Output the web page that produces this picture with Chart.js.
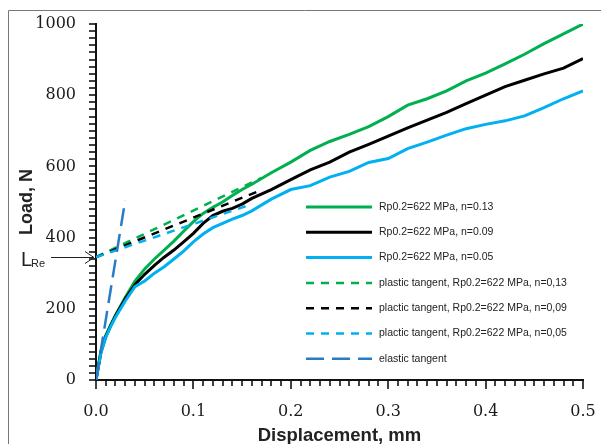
<!DOCTYPE html>
<html lang="en">
<head>
    <meta charset="UTF-8">
    <title>Load vs Displacement</title>
    <script src="https://cdn.jsdelivr.net/npm/chart.js"></script>
    <style>
        html, body { margin: 0; padding: 0; background: #fff; }
        #wrap { position: relative; width: 601px; height: 444px; }
    </style>
</head>
<body>
    <div id="wrap">
        <canvas id="loadChart" width="601" height="444"></canvas>
    </div>

    <script>
        // Displacement grid (mm) shared by the three measured curves
        const displacement = [0, 0.005, 0.01, 0.015, 0.02, 0.03, 0.04, 0.05, 0.06, 0.07, 0.08, 0.09,
            0.1, 0.11, 0.12, 0.13, 0.14, 0.15, 0.16, 0.18, 0.2, 0.22, 0.24, 0.26, 0.28, 0.3,
            0.32, 0.34, 0.36, 0.38, 0.4, 0.42, 0.44, 0.46, 0.48, 0.5];

        // Load (N) for each hardening exponent
        const loadN013 = [0, 80, 125, 155, 182, 232, 278, 312, 340, 365, 390, 418,
            445, 468, 485, 500, 518, 535, 550, 582, 612, 645, 670, 690, 712, 740,
            772, 790, 812, 840, 862, 888, 915, 945, 972, 1000];
        const loadN009 = [0, 78, 122, 152, 180, 228, 268, 297, 322, 345, 365, 388,
            412, 440, 462, 474, 482, 494, 510, 535, 563, 590, 612, 640, 662, 685,
            708, 730, 752, 776, 800, 824, 842, 860, 876, 903];
        const loadN005 = [0, 75, 120, 150, 176, 222, 262, 278, 300, 318, 340, 362,
            388, 410, 428, 440, 452, 462, 475, 508, 535, 546, 570, 586, 611, 622,
            650, 668, 688, 706, 718, 728, 742, 765, 790, 812];

        // Straight tangent lines (start and end points)
        const lRe = 345;
        const tangentX013 = [0, 0.17];
        const tangentY013 = [lRe, 568];
        const tangentX009 = [0, 0.17];
        const tangentY009 = [lRe, 534];
        const tangentX005 = [0, 0.16];
        const tangentY005 = [lRe, 494];
        const elasticX = [0, 0.03];
        const elasticY = [0, 505];

        const seriesLabels = [
            'Rp0.2=622 MPa, n=0.13',
            'Rp0.2=622 MPa, n=0.09',
            'Rp0.2=622 MPa, n=0.05',
            'plastic tangent, Rp0.2=622 MPa, n=0,13',
            'plactic tangent, Rp0.2=622 MPa, n=0,09',
            'plactic tangent, Rp0.2=622 MPa, n=0,05',
            'elastic tangent'
        ];

        const GREEN = '#00b050';
        const BLACK = '#000000';
        const LIGHT_BLUE = '#00b0f0';
        const DARK_BLUE = '#2a7bc6';

        const toPoints = (xs, ys) => xs.map((x, i) => ({ x: x, y: ys[i] }));

        function line(label, xs, ys, color, dash, order) {
            return {
                label: label,
                data: toPoints(xs, ys),
                borderColor: color,
                backgroundColor: color,
                borderWidth: dash.length ? 2.5 : 3,
                borderDash: dash,
                pointRadius: 0,
                tension: 0,
                order: order
            };
        }

        // keep the plot box where the layout padding puts it
        function fixAxis(size) {
            return (scale) => {
                if (scale.isHorizontal()) scale.height = size;
                else scale.width = size;
                scale.paddingLeft = scale.paddingRight = 0;
                scale.paddingTop = scale.paddingBottom = 0;
            };
        }

        // Outer frame, axis tick marks, L_Re marker and the legend inside the plot
        const decorations = {
            id: 'decorations',
            beforeDraw(chart) {
                const ctx = chart.ctx;
                ctx.save();
                ctx.fillStyle = '#fff';
                ctx.fillRect(0, 0, chart.width, chart.height);
                ctx.strokeStyle = '#777';
                ctx.lineWidth = 1;
                ctx.beginPath();
                ctx.moveTo(8.5, chart.height);
                ctx.lineTo(8.5, 10.5);
                ctx.lineTo(chart.width, 10.5);
                ctx.stroke();
                ctx.restore();
            },
            afterDraw(chart) {
                const ctx = chart.ctx;
                const xScale = chart.scales.x;
                const yScale = chart.scales.y;
                const area = chart.chartArea;

                ctx.save();
                ctx.setLineDash([]);
                // tick marks: every tick of each scale, longer on labelled x ones
                ctx.strokeStyle = '#111';
                ctx.lineWidth = 1.6;
                yScale.getTicks().forEach((t) => {
                    const py = Math.round(yScale.getPixelForValue(t.value));
                    ctx.beginPath();
                    ctx.moveTo(area.left - 7, py);
                    ctx.lineTo(area.left, py);
                    ctx.stroke();
                });
                xScale.getTicks().forEach((t) => {
                    const px = Math.round(xScale.getPixelForValue(t.value));
                    const major = Math.round(t.value * 100) % 10 === 0;
                    ctx.beginPath();
                    ctx.moveTo(px, area.bottom);
                    ctx.lineTo(px, area.bottom + (major ? 9 : 6));
                    ctx.stroke();
                });

                // arrow pointing at L_Re on the load axis
                ctx.strokeStyle = '#222';
                ctx.lineWidth = 1;
                const yRe = Math.round(yScale.getPixelForValue(lRe)) + 0.5;
                ctx.beginPath();
                ctx.moveTo(51, yRe);
                ctx.lineTo(area.left - 2, yRe);
                ctx.moveTo(area.left - 11, yRe - 6);
                ctx.lineTo(area.left - 2, yRe);
                ctx.lineTo(area.left - 11, yRe + 6);
                ctx.stroke();

                ctx.fillStyle = '#222';
                ctx.textBaseline = 'alphabetic';
                ctx.font = '20px "Liberation Sans"';
                ctx.fillText('L', 21, yRe + 8);
                ctx.font = '11px "Liberation Sans"';
                ctx.fillText('Re', 31, yRe + 9);

                // legend
                const lx = 306, tx = 379;
                const ly0 = 207, step = 25.3;
                ctx.font = '10.5px "Liberation Sans"';
                ctx.textBaseline = 'middle';
                chart.data.datasets.forEach((ds, i) => {
                    const y = ly0 + i * step;
                    ctx.strokeStyle = ds.borderColor;
                    ctx.lineWidth = ds.borderWidth;
                    ctx.setLineDash(ds.borderDash);
                    ctx.beginPath();
                    ctx.moveTo(lx, y);
                    ctx.lineTo(lx + 66, y);
                    ctx.stroke();
                    ctx.setLineDash([]);
                    ctx.fillStyle = '#222';
                    ctx.fillText(ds.label, tx, y);
                });
                ctx.restore();
            }
        };

        new Chart(document.getElementById('loadChart'), {
            type: 'line',
            data: {
                datasets: [
                    line(seriesLabels[0], displacement, loadN013, GREEN, [], 7),
                    line(seriesLabels[1], displacement, loadN009, BLACK, [], 6),
                    line(seriesLabels[2], displacement, loadN005, LIGHT_BLUE, [], 5),
                    line(seriesLabels[3], tangentX013, tangentY013, GREEN, [8, 7], 4),
                    line(seriesLabels[4], tangentX009, tangentY009, BLACK, [8, 7], 3),
                    line(seriesLabels[5], tangentX005, tangentY005, LIGHT_BLUE, [8, 7], 2),
                    line(seriesLabels[6], elasticX, elasticY, DARK_BLUE, [18, 8], 1)
                ]
            },
            options: {
                responsive: false,
                animation: false,
                layout: { padding: { left: 0, right: 18, top: 24, bottom: 0 } },
                plugins: {
                    legend: { display: false },
                    tooltip: { enabled: false }
                },
                scales: {
                    x: {
                        type: 'linear',
                        min: 0,
                        max: 0.5,
                        border: { display: true, color: '#111', width: 2 },
                        grid: { display: false, drawTicks: false },
                        ticks: {
                            stepSize: 0.01,
                            autoSkip: false,
                            maxRotation: 0,
                            padding: 22,
                            color: '#1a1a1a',
                            font: { family: '"DejaVu Serif"', size: 16 },
                            callback: (value) => {
                                const h = Math.round(value * 100);
                                return h % 10 === 0 ? (h / 100).toFixed(1) : '';
                            }
                        },
                        title: {
                            display: true,
                            text: 'Displacement, mm',
                            color: '#222',
                            font: { family: '"Liberation Sans"', size: 18.5, weight: 'bold' },
                            padding: { top: 0, bottom: -3 }
                        },
                        afterFit: fixAxis(64)
                    },
                    y: {
                        min: 0,
                        max: 1000,
                        border: { display: true, color: '#111', width: 2 },
                        grid: { display: false, drawTicks: false },
                        ticks: {
                            stepSize: 20,
                            autoSkip: false,
                            padding: 20,
                            color: '#1a1a1a',
                            font: { family: '"DejaVu Serif"', size: 16 },
                            callback: (value) => (value % 200 === 0 ? String(value) : '')
                        },
                        title: {
                            display: true,
                            text: 'Load, N',
                            color: '#222',
                            font: { family: '"Liberation Sans"', size: 18, weight: 'bold' },
                            padding: { top: 16, bottom: 0 }
                        },
                        afterFit: fixAxis(96)
                    }
                }
            },
            plugins: [decorations]
        });
    </script>
</body>
</html>
